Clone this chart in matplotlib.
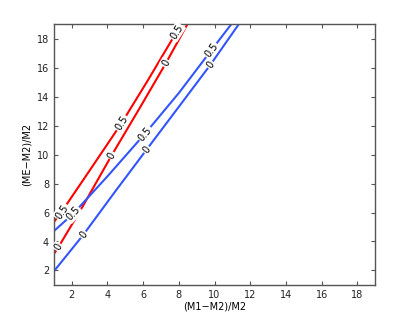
import numpy as np
import matplotlib
matplotlib.use('Agg')
from matplotlib import pyplot as plt

# contour lines
red_05_x = [1.0, 1.44, 3.0, 4.79, 6.3, 7.87, 8.15]
red_05_y = [5.35, 6.07, 8.9, 12.17, 15.2, 18.46, 19.0]
red_0_x = [1.0, 1.25, 2.6, 4.23, 5.8, 7.27, 8.48]
red_0_y = [3.15, 3.61, 6.4, 9.94, 13.2, 16.3, 19.0]
blue_05_x = [1.0, 2.08, 4.0, 6.1, 8.0, 9.82, 10.94]
blue_05_y = [4.72, 5.92, 8.5, 11.44, 14.25, 17.2, 19.0]
blue_0_x = [1.0, 2.65, 4.4, 6.19, 8.0, 9.77, 11.36]
blue_0_y = [1.95, 4.47, 7.4, 10.34, 13.3, 16.2, 19.0]

# label positions on each line
red_05_lab = [(1.44, 6.07), (4.79, 12.17), (7.87, 18.46)]
red_0_lab = [(1.25, 3.61), (4.23, 9.94), (7.27, 16.3)]
blue_05_lab = [(2.08, 5.92), (6.1, 11.44), (9.82, 17.2)]
blue_0_lab = [(2.65, 4.47), (6.19, 10.34), (9.77, 16.2)]

xticks = [2, 4, 6, 8, 10, 12, 14, 16, 18]
yticks = [2, 4, 6, 8, 10, 12, 14, 16, 18]

RED = '#ff0000'
BLUE = '#3355ff'
GRAY = '#555555'


def add_labels(ax, xs, ys, labs, text):
  for (lx, ly) in labs:
    # slope of the line near the label, in screen space
    i = np.argmin(np.abs(np.array(xs) - lx))
    j = i + 1 if i + 1 < len(xs) else i - 1
    p1 = ax.transData.transform((xs[min(i, j)], ys[min(i, j)]))
    p2 = ax.transData.transform((xs[max(i, j)], ys[max(i, j)]))
    ang = np.degrees(np.arctan2(p2[1] - p1[1], p2[0] - p1[0]))
    ax.text(lx, ly, text, rotation=ang, rotation_mode='anchor',
            ha='center', va='center', fontsize=7, zorder=5,
            bbox=dict(boxstyle='square,pad=0.1', fc='white', ec='none'))


def main():
  fig = plt.figure(figsize=(4.15, 3.22), dpi=100)
  ax = fig.add_axes([0.130, 0.115, 0.774, 0.810])

  ax.plot(red_05_x, red_05_y, color=RED, lw=1.5)
  ax.plot(red_0_x, red_0_y, color=RED, lw=1.5)
  ax.plot(blue_05_x, blue_05_y, color=BLUE, lw=1.5)
  ax.plot(blue_0_x, blue_0_y, color=BLUE, lw=1.5)

  ax.set_xlim(1, 19)
  ax.set_ylim(1, 19)
  ax.set_xticks(xticks)
  ax.set_yticks(yticks)

  add_labels(ax, red_05_x, red_05_y, red_05_lab, '0.5')
  add_labels(ax, red_0_x, red_0_y, red_0_lab, '0')
  add_labels(ax, blue_05_x, blue_05_y, blue_05_lab, '0.5')
  add_labels(ax, blue_0_x, blue_0_y, blue_0_lab, '0')

  ax.tick_params(direction='in', top=True, right=True, length=3,
                 width=0.8, colors=GRAY, labelcolor='#222222', labelsize=7)
  for s in ax.spines.values():
    s.set_color(GRAY)
    s.set_linewidth(1.0)

  ax.set_xlabel('(M1\u2212M2)/M2', fontsize=7, labelpad=1)
  ax.set_ylabel('(ME\u2212M2)/M2', fontsize=7, labelpad=4)

  fig.savefig('out.png', dpi=100)


if __name__ == "__main__":
  main()
